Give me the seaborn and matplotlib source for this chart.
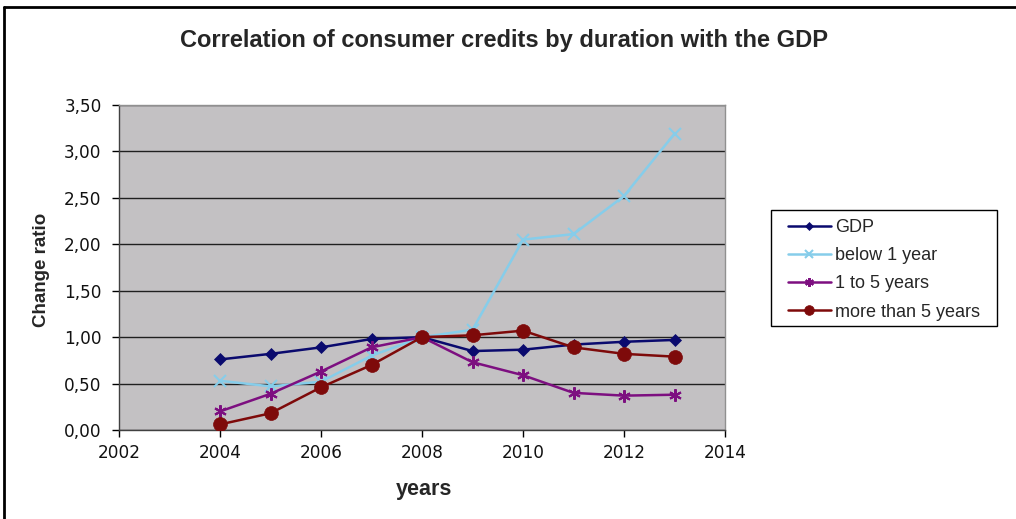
import matplotlib
matplotlib.use("Agg")
import matplotlib.pyplot as plt
import seaborn as sns
import pandas as pd
from matplotlib.lines import Line2D
from matplotlib.patches import Rectangle
from matplotlib.ticker import FuncFormatter

years = [2004, 2005, 2006, 2007, 2008, 2009, 2010, 2011, 2012, 2013]
gdp = [0.76, 0.82, 0.89, 0.98, 1.00, 0.85, 0.865, 0.92, 0.95, 0.97]
below_1_year = [0.53, 0.47, 0.52, 0.80, 1.00, 1.08, 2.05, 2.11, 2.52, 3.19]
one_to_5_years = [0.20, 0.39, 0.63, 0.89, 1.00, 0.73, 0.59, 0.40, 0.37, 0.38]
more_than_5_years = [0.06, 0.18, 0.46, 0.70, 1.00, 1.02, 1.07, 0.89, 0.82, 0.79]
series_names = ["GDP", "below 1 year", "1 to 5 years", "more than 5 years"]

df = pd.DataFrame({"year": years, "GDP": gdp, "below 1 year": below_1_year,
                   "1 to 5 years": one_to_5_years, "more than 5 years": more_than_5_years})
long = df.melt(id_vars="year", var_name="series", value_name="ratio")

sns.set_theme(style="white")
plt.rcParams['font.family'] = ['Liberation Sans', 'DejaVu Sans']

W, H = 1016, 519
fig = plt.figure(figsize=(W / 100, H / 100), dpi=100)
ax = fig.add_axes([119 / W, 1 - 430 / H, (725 - 119) / W, (430 - 105) / H])
ax.set_facecolor("#C3C1C3")

palette = {"GDP": "#0A0A6E", "below 1 year": "#86CDEA",
           "1 to 5 years": "#7D0F80", "more than 5 years": "#7E0A0A"}
markers = {"GDP": "D", "below 1 year": "x", "1 to 5 years": (6, 2, 0), "more than 5 years": "o"}
sizes_m = {"GDP": 6, "below 1 year": 9, "1 to 5 years": 9, "more than 5 years": 10}

for name in series_names:
    sub = long[long.series == name]
    sns.lineplot(data=sub, x="year", y="ratio", ax=ax, color=palette[name],
                 marker=markers[name], markersize=sizes_m[name], linewidth=1.8,
                 markeredgewidth=1.5 if name in ("below 1 year", "1 to 5 years") else 0.5,
                 markeredgecolor=palette[name], label=name, zorder=3)

ax.set_xlim(2002, 2014)
ax.set_ylim(0, 3.5)
ax.set_xticks(range(2002, 2015, 2))
ax.set_yticks([i * 0.5 for i in range(8)])
ax.yaxis.set_major_formatter(FuncFormatter(lambda v, p: f"{v:.2f}".replace(".", ",")))
ax.grid(axis="y", color="#202020", linewidth=1.0)
ax.set_axisbelow(True)
ax.tick_params(axis="both", labelsize=12.2, length=5, width=1, color="black", direction="out",
               bottom=True, left=True, labelcolor="#111111")
ax.tick_params(axis="x", pad=5)
ax.tick_params(axis="y", pad=7.5)
for lab in ax.get_xticklabels() + ax.get_yticklabels():
    lab.set_family("DejaVu Sans")
for s in ["left", "bottom"]:
    ax.spines[s].set_color("#404040")
    ax.spines[s].set_linewidth(1)
for s in ["top", "right"]:
    ax.spines[s].set_color("#909090")
    ax.spines[s].set_linewidth(1)

ax.set_xlabel("")
ax.set_ylabel("")
fig.text(424.5 / W, 1 - 489 / H, "years", ha="center", va="center",
         fontsize=15.5, fontweight="bold")
fig.text(41 / W, 1 - 270 / H, "Change ratio", ha="center", va="center",
         rotation=90, fontsize=13.5, fontweight="bold")
fig.text(0.496, 1 - 41 / H, "Correlation of consumer credits by duration with the GDP",
         ha="center", va="center", fontsize=17, fontweight="bold")

if ax.get_legend():
    ax.get_legend().remove()
handles, labels = ax.get_legend_handles_labels()
leg = fig.legend(handles, labels, loc="upper left", bbox_to_anchor=(788 / W, 1 - 219 / H),
                 frameon=False, fontsize=13, handlelength=2.38,
                 labelspacing=0.62, borderpad=0, handletextpad=0.22, markerscale=0.7,
                 borderaxespad=0)
fig.add_artist(Rectangle((771 / W, 1 - 326 / H), (997 - 771) / W, (326 - 210) / H,
                         transform=fig.transFigure, fill=False, edgecolor="black", linewidth=1))

fig.add_artist(Line2D([4 / W, 4 / W], [0, 1 - 7 / H], transform=fig.transFigure,
                      color="black", linewidth=2))
fig.add_artist(Line2D([4 / W, 1], [1 - 7 / H, 1 - 7 / H], transform=fig.transFigure,
                      color="black", linewidth=2))

fig.savefig("out.png", dpi=100, facecolor="white")
